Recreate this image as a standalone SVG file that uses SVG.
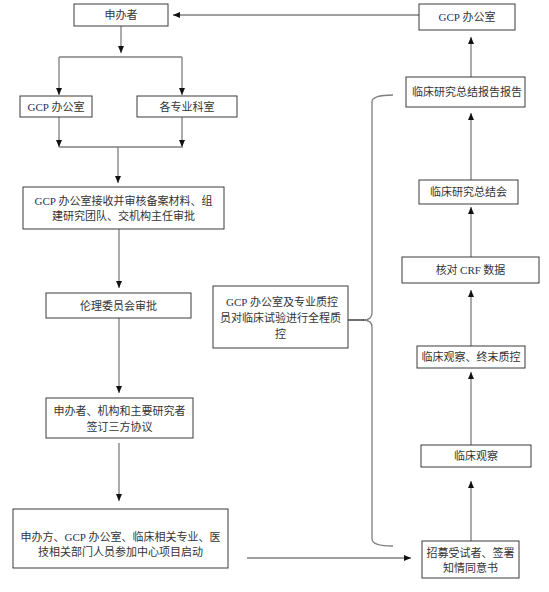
<svg xmlns="http://www.w3.org/2000/svg" width="549" height="592" viewBox="0 0 549 592">
<style>
.box{fill:#ffffff;stroke:#3a3a3a;stroke-width:1}
.t{font-family:"Noto Sans CJK SC","Noto Sans",sans-serif;font-size:11px;fill:#333333;text-anchor:middle}
.l{font-family:"Liberation Serif",serif;fill:#26345e}
.c{fill:none;stroke:#7f7f7f;stroke-width:1.3}
.a{marker-end:url(#ah)}
</style>
<defs>
<marker id="ah" markerUnits="userSpaceOnUse" markerWidth="7" markerHeight="6" refX="7" refY="3" orient="auto">
<path d="M0,0 L7,3 L0,6 z" fill="#111111"/>
</marker>
</defs>
<rect width="549" height="592" fill="#ffffff"/>
<g id="connectors">
<path class="c a" d="M419,15 L173,15"/>
<path class="c a" d="M121,26 L121,53"/>
<path class="c" d="M59,57 L182,57"/>
<path class="c a" d="M59,57 L59,95"/>
<path class="c a" d="M182,57 L182,95"/>
<path class="c a" d="M59,117 L59,147"/>
<path class="c a" d="M182,117 L182,147"/>
<path class="c" d="M59,147 L183,147"/>
<path class="c a" d="M118,147 L118,183"/>
<path class="c a" d="M119,229 L119,288"/>
<path class="c a" d="M119,318 L119,393"/>
<path class="c a" d="M119,443 L119,501"/>
<path class="c a" d="M247,558 L411,558"/>
<path class="c a" d="M471,541 L471,481"/>
<path class="c a" d="M471,445 L471,372"/>
<path class="c a" d="M471,346 L471,290"/>
<path class="c a" d="M471,257 L471,207"/>
<path class="c a" d="M471,180 L471,113"/>
<path class="c a" d="M471,77 L471,37"/>
<path class="c" d="M393,95 Q372,95 372,102 L372,313 Q372,320 363,320 Q372,320 372,327 L372,539 Q372,546 393,546"/>
<path d="M348,320 L364,320" fill="none" stroke="#222222" stroke-width="1.3"/>
</g>
<g id="n1"><rect class="box" x="74" y="4" width="94" height="22"/><text class="t" x="121" y="19">申办者</text></g>
<g id="n2"><rect class="box" x="20" y="96" width="72" height="21"/><text class="t" x="56" y="110.5"><tspan class="l">GCP</tspan> 办公室</text></g>
<g id="n3"><rect class="box" x="137" y="96" width="100" height="21"/><text class="t" x="187" y="110.5">各专业科室</text></g>
<g id="n4"><rect class="box" x="23" y="187" width="201" height="42"/><text class="t" x="123.5" y="204.5"><tspan class="l">GCP</tspan> 办公室接收并审核备案材料、组</text><text class="t" x="123.5" y="220">建研究团队、交机构主任审批</text></g>
<g id="n5"><rect class="box" x="46" y="293" width="145" height="25"/><text class="t" x="118.5" y="309.5">伦理委员会审批</text></g>
<g id="n6"><rect class="box" x="46" y="398" width="147" height="40"/><text class="t" x="119.5" y="415">申办者、机构和主要研究者</text><text class="t" x="119.5" y="431">签订三方协议</text></g>
<g id="n7"><rect class="box" x="13" y="509" width="215" height="59"/><text class="t" x="120.5" y="541"><tspan>申办方、</tspan><tspan class="l">GCP</tspan> 办公室、临床相关专业、医</text><text class="t" x="120.5" y="556">技相关部门人员参加中心项目启动</text></g>
<g id="n8"><rect class="box" x="213" y="286" width="135" height="62"/><text class="t" x="282" y="306"><tspan class="l">GCP</tspan> 办公室及专业质控</text><text class="t" x="280.5" y="322">员对临床试验进行全程质</text><text class="t" x="280.5" y="338">控</text></g>
<g id="n9"><rect class="box" x="419" y="4" width="96" height="26"/><text class="t" x="467" y="21"><tspan class="l">GCP</tspan> 办公室</text></g>
<g id="n10"><rect class="box" x="406" y="77" width="119" height="30"/><text class="t" x="467" y="96">临床研究总结报告报告</text></g>
<g id="n11"><rect class="box" x="419" y="180" width="99" height="24"/><text class="t" x="468.5" y="196">临床研究总结会</text></g>
<g id="n12"><rect class="box" x="402" y="257" width="137" height="26"/><text class="t" x="470.5" y="274">核对 <tspan class="l">CRF</tspan> 数据</text></g>
<g id="n13"><rect class="box" x="417" y="346" width="108" height="22"/><text class="t" x="471" y="361">临床观察、终末质控</text></g>
<g id="n14"><rect class="box" x="421" y="445" width="110" height="22"/><text class="t" x="476" y="460">临床观察</text></g>
<g id="n15"><rect class="box" x="422" y="541" width="97" height="37"/><text class="t" x="470.5" y="557">招募受试者、签署</text><text class="t" x="470.5" y="572">知情同意书</text></g>
</svg>
